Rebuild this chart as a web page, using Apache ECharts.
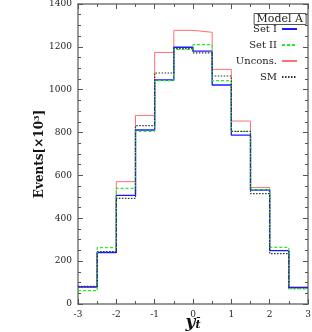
<!DOCTYPE html>
<html><head><meta charset="utf-8">
<script src="https://cdn.jsdelivr.net/npm/echarts@6/dist/echarts.min.js"></script>
<style>html,body{margin:0;padding:0;background:#fff}#c{width:312px;height:332px}</style>
</head><body><div id="c"></div>
<script>
// bin edges (12 bins of width 0.5 from -3 to 3)
var binEdges = [-3, -2.5, -2, -1.5, -1, -0.5, 0, 0.5, 1, 1.5, 2, 2.5, 3];
var setI   = [79, 240, 507, 812, 1045, 1198, 1180, 1022, 788, 532, 249, 77];
var setII  = [62, 263, 540, 806, 1042, 1188, 1210, 1042, 805, 534, 264, 70];
var uncons = [80, 241, 571, 880, 1174, 1277, 1268, 1095, 854, 544, 250, 78];
var sm     = [82, 245, 493, 832, 1078, 1192, 1172, 1064, 806, 515, 235, 75];
var yTicks = [0, 200, 400, 600, 800, 1000, 1200, 1400];
var xTicks = [-3, -2, -1, 0, 1, 2, 3];

function stepData(vals) {
  var d = [];
  for (var i = 0; i < vals.length; i++) d.push([binEdges[i], vals[i]]);
  d.push([binEdges[binEdges.length - 1], vals[vals.length - 1]]);
  return d;
}
var serif = '"DejaVu Serif", "Liberation Serif", serif';
var axisCol = '#777';
function xAx(pos, show) {
  return {
    type: 'value', position: pos, min: xTicks[0], max: xTicks[xTicks.length-1], interval: 1,
    axisLine: {show: true, onZero: false, lineStyle: {color: axisCol, width: 1.5}},
    axisTick: {show: true, inside: true, length: 5, lineStyle: {color: '#555'}},
    minorTick: {show: true, splitNumber: 2, length: 3, lineStyle: {color: '#555'}},
    splitLine: {show: false},
    axisLabel: {show: show, color: '#222', fontFamily: serif, fontSize: 9, margin: 6,
      formatter: function (v) { return String(v); }},
    name: show ? '{y|y}{s|t̄}' : '',
    nameLocation: 'middle', nameGap: 11, nameMoveOverlap: false,
    nameTextStyle: {rich: {
      y: {fontFamily: serif, fontStyle: 'italic', fontWeight: 'bold', fontSize: 17, color: '#111', lineHeight: 16},
      s: {fontFamily: serif, fontStyle: 'italic', fontWeight: 'bold', fontSize: 11, color: '#111', verticalAlign: 'bottom', lineHeight: 10, padding: [6, 0, 0, 0]}
    }}
  };
}
function yAx(pos, show) {
  return {
    type: 'value', position: pos, min: yTicks[0], max: yTicks[yTicks.length-1], interval: 200,
    axisLine: {show: true, onZero: false, lineStyle: {color: axisCol, width: 1.5}},
    axisTick: {show: true, inside: true, length: 5, lineStyle: {color: '#555'}},
    minorTick: {show: true, splitNumber: 4, length: 3, lineStyle: {color: '#555'}},
    splitLine: {show: false},
    axisLabel: {show: show, color: '#222', fontFamily: serif, fontSize: 9, margin: 6,
      formatter: function (v) { return String(v); }},
    name: show ? '{t|Events[×10}{p|3}{t|]}' : '',
    nameLocation: 'middle', nameGap: 31, nameRotate: 90, nameMoveOverlap: false,
    nameTextStyle: {rich: {
      t: {fontFamily: serif, fontWeight: 'bold', fontSize: 12, color: '#111'},
      p: {fontFamily: serif, fontWeight: 'bold', fontSize: 8, color: '#111', verticalAlign: 'top', padding: [0, 0, 6, 0]}
    }}
  };
}
function ser(name, vals, color, type, width, z) {
  return {
    name: name, type: 'line', step: 'end', data: stepData(vals),
    xAxisIndex: 0, yAxisIndex: 0, symbol: 'none', z: z,
    lineStyle: {color: color, type: type, width: width},
    itemStyle: {color: color}
  };
}
var chart = echarts.init(document.getElementById('c'));
chart.setOption({
  animation: false,
  backgroundColor: '#fff',
  grid: {left: 78, right: 4, top: 4, bottom: 28, containLabel: false, outerBoundsMode: 'none'},
  title: {
    text: 'Model A', right: 6, top: 13,
    borderColor: '#555', borderWidth: 1, padding: [1, 3, 0, 3],
    textStyle: {fontFamily: serif, fontWeight: 'normal', fontSize: 11, color: '#222'}
  },
  legend: {
    orient: 'vertical', align: 'right', right: 9, top: 19,
    itemWidth: 15, itemHeight: 8, itemGap: 6,
    itemStyle: {opacity: 0},
    textStyle: {fontFamily: serif, fontSize: 10, color: '#222'},
    data: ['Set I', 'Set II', 'Uncons.', 'SM']
  },
  xAxis: [xAx('bottom', true), xAx('top', false)],
  yAxis: [yAx('left', true), yAx('right', false)],
  series: [
    ser('Uncons.', uncons, '#ff7070', 'solid', 1, 2),
    ser('Set I', setI, '#1a1aff', 'solid', 1.4, 3),
    ser('Set II', setII, '#22ee22', [3, 2], 1.2, 4),
    ser('SM', sm, '#333', [1.5, 1.5], 1.2, 5)
  ]
});
</script></body></html>
